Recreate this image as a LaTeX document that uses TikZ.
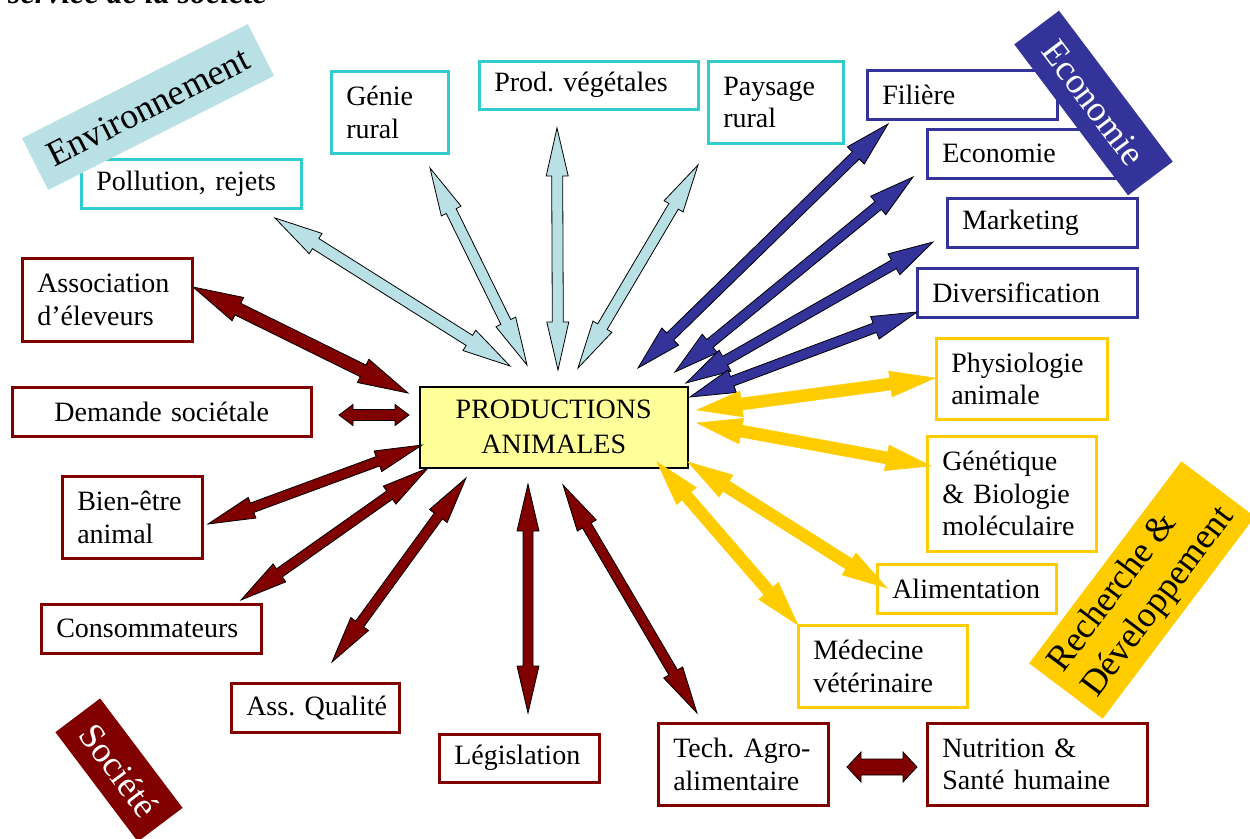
\documentclass[tikz,border=0pt]{standalone}
\usepackage{fontspec}
\setmainfont{Liberation Serif}
\usetikzlibrary{calc}
\definecolor{envc}{RGB}{185,224,228}
\definecolor{cyanb}{RGB}{51,204,204}
\definecolor{ecoc}{RGB}{51,51,153}
\definecolor{rdc}{RGB}{255,204,0}
\definecolor{socc}{RGB}{128,0,0}
\definecolor{prodc}{RGB}{255,255,153}
\frenchspacing
\newcommand\blockarrow[6]{%
  \path (#1); \pgfgetlastxy{\bax}{\bay}%
  \path (#2); \pgfgetlastxy{\bbx}{\bby}%
  \pgfmathsetmacro\bang{atan2((\bby)-(\bay),(\bbx)-(\bax))}%
  \pgfmathsetmacro\blen{veclen((\bbx)-(\bax),(\bby)-(\bay))}%
  \pgfmathsetmacro\bend{\blen-#6}%
  \draw[#3, shift={(#1)}, rotate=\bang] (0pt,0pt) -- (#6pt,#5pt) -- (#6pt,#4pt) -- (\bend pt,#4pt) -- (\bend pt,#5pt) -- (\blen pt,0pt) -- (\bend pt,-#5pt) -- (\bend pt,-#4pt) -- (#6pt,-#4pt) -- (#6pt,-#5pt) -- cycle;
}
\tikzset{
  lbarrow/.style={fill=envc, draw=black, line width=0.8pt, line join=miter},
  blarrow/.style={fill=ecoc, draw=black, line width=0.8pt, line join=miter},
  ylarrow/.style={fill=rdc, draw=rdc, line width=0.5pt, line join=miter},
  rdarrow/.style={fill=socc, draw=black, line width=0.8pt, line join=miter},
  box/.style={draw, line width=2.5pt, fill=white, inner xsep=15pt, inner ysep=0pt,
    align=left, anchor=north west, font=\fontsize{28}{32.5}\selectfont},
  envbox/.style={box, draw=cyanb},
  ecobox/.style={box, draw=ecoc},
  rdbox/.style={box, draw=rdc},
  socbox/.style={box, draw=socc},
  label/.style={inner sep=0pt, font=\fontsize{36}{42}\selectfont},
}
\begin{document}
\begin{tikzpicture}[x=1pt,y=-1pt]
\useasboundingbox (0,0) rectangle (1250,838);
\node[anchor=base west, inner sep=0pt, font=\bfseries\itshape\fontsize{32}{36}\selectfont] (title) at (8,3) {service de la société};
% boxes
\node[envbox, minimum width=117pt, minimum height=82pt, text width=87pt] (genie) at (330,70) {Génie\\rural};
\node[envbox, minimum width=219pt, minimum height=48pt, text width=189pt] (prod) at (478,60) {\mbox{Prod. végétales}};
\node[envbox, minimum width=135pt, minimum height=82pt, text width=105pt] (pays) at (707,60) {Paysage\\rural};
\node[envbox, minimum width=220pt, minimum height=49pt, text width=190pt] (pol) at (80,158) {\mbox{Pollution, rejets}};
\node[ecobox, minimum width=190pt, minimum height=49pt, text width=160pt] (fil) at (866,69) {Filière};
\node[ecobox, minimum width=192pt, minimum height=49pt, text width=162pt] (eco) at (926,128) {Economie};
\node[ecobox, minimum width=190pt, minimum height=49pt, text width=160pt] (mkt) at (946,197) {Marketing};
\node[ecobox, minimum width=220pt, minimum height=49pt, text width=190pt] (div) at (916,267) {Diversification};
\node[rdbox, minimum width=171pt, minimum height=81pt, text width=141pt] (phys) at (935,337) {Physiologie\\animale};
\node[rdbox, minimum width=169pt, minimum height=115pt, text width=139pt] (gen) at (926,435) {Génétique\\\mbox{\& Biologie}\\moléculaire};
\node[rdbox, minimum width=179pt, minimum height=49pt, text width=149pt] (alim) at (876,563) {Alimentation};
\node[rdbox, minimum width=169pt, minimum height=82pt, text width=139pt] (med) at (797,624) {Médecine\\vétérinaire};
\node[socbox, minimum width=220pt, minimum height=82pt, text width=190pt] (nut) at (926,722) {\mbox{Nutrition \&}\\\mbox{Santé humaine}};
\node[socbox, minimum width=170pt, minimum height=82pt, text width=140pt] (tech) at (657,722) {\mbox{Tech. Agro-}\\alimentaire};
\node[socbox, minimum width=160pt, minimum height=48pt, text width=130pt] (leg) at (438,733) {Législation};
\node[socbox, minimum width=168pt, minimum height=49pt, text width=138pt] (assq) at (230,682) {\mbox{Ass. Qualité}};
\node[socbox, minimum width=220pt, minimum height=49pt, text width=190pt] (cons) at (40,603) {Consommateurs};
\node[socbox, minimum width=140pt, minimum height=82pt, text width=110pt] (bien) at (61,475) {Bien-être\\animal};
\node[socbox, align=center, minimum width=299pt, minimum height=49pt, text width=269pt] (dem) at (11,386) {\mbox{Demande sociétale}};
\node[socbox, minimum width=170pt, minimum height=83pt, text width=140pt] (asso) at (21,257) {Association\\d’éleveurs};
\node[box, draw=black, line width=1.5pt, fill=prodc, align=center, font=\fontsize{28}{35}\selectfont,
  minimum width=268pt, minimum height=81pt, text width=238pt] (center) at (419,386) {PRODUCTIONS\\ANIMALES};
% arrow end points
\coordinate (a1s) at (275,218); \coordinate (a1e) at (510,366);
\coordinate (a2s) at (430,168); \coordinate (a2e) at (527,365);
\coordinate (a3s) at (557,128); \coordinate (a3e) at (558,370);
\coordinate (a4s) at (698,165); \coordinate (a4e) at (578,368);
\coordinate (b1s) at (888,124); \coordinate (b1e) at (638,368);
\coordinate (b2s) at (913,177); \coordinate (b2e) at (675,372);
\coordinate (b3s) at (933,242); \coordinate (b3e) at (686,383);
\coordinate (b4s) at (917,312); \coordinate (b4e) at (690,397);
\coordinate (y1s) at (697,410); \coordinate (y1e) at (935,378);
\coordinate (y2s) at (697,423); \coordinate (y2e) at (931,466);
\coordinate (y3s) at (688,462); \coordinate (y3e) at (887,588);
\coordinate (y4s) at (657,462); \coordinate (y4e) at (798,625);
\coordinate (r1s) at (193,287); \coordinate (r1e) at (408,393);
\coordinate (r2s) at (339,415); \coordinate (r2e) at (409,415);
\coordinate (r3s) at (208,524); \coordinate (r3e) at (422,445);
\coordinate (r4s) at (241,600); \coordinate (r4e) at (428,468);
\coordinate (r5s) at (332,662); \coordinate (r5e) at (466,478);
\coordinate (r6s) at (528,713); \coordinate (r6e) at (528,484);
\coordinate (r7s) at (563,485); \coordinate (r7e) at (697,713);
\coordinate (r8s) at (847,767); \coordinate (r8e) at (917,767);
% arrows
\blockarrow{a1s}{a1e}{lbarrow}{6}{12}{48}
\blockarrow{a2s}{a2e}{lbarrow}{5.5}{11}{48}
\blockarrow{a3s}{a3e}{lbarrow}{5.5}{11}{48}
\blockarrow{a4s}{a4e}{lbarrow}{5.5}{11}{48}
\blockarrow{b1s}{b1e}{blarrow}{5}{12}{45}
\blockarrow{b2s}{b2e}{blarrow}{5}{12}{45}
\blockarrow{b3s}{b3e}{blarrow}{5}{12}{45}
\blockarrow{b4s}{b4e}{blarrow}{5}{12}{45}
\blockarrow{y1s}{y1e}{ylarrow}{6}{13}{45}
\blockarrow{y2s}{y2e}{ylarrow}{6}{13}{45}
\blockarrow{y3s}{y3e}{ylarrow}{6}{13}{45}
\blockarrow{y4s}{y4e}{ylarrow}{6}{13}{45}
\blockarrow{r1s}{r1e}{rdarrow}{6.5}{13}{50}
\blockarrow{r2s}{r2e}{rdarrow}{5.5}{10.5}{14}
\blockarrow{r3s}{r3e}{rdarrow}{5}{11}{47}
\blockarrow{r4s}{r4e}{rdarrow}{5}{11}{47}
\blockarrow{r5s}{r5e}{rdarrow}{5}{11}{47}
\blockarrow{r6s}{r6e}{rdarrow}{5}{11}{47}
\blockarrow{r7s}{r7e}{rdarrow}{5}{11}{47}
\blockarrow{r8s}{r8e}{rdarrow}{8}{15}{14}
% domain labels
\node[label, rotate=26.8, fill=envc, minimum width=253pt, minimum height=58pt] (lenv) at (148,107) {Environnement};
\node[label, rotate=-53, fill=ecoc, text=white, minimum width=189pt, minimum height=56pt] (leco) at (1093.5,103) {Economie};
\node[label, rotate=53, fill=rdc, align=left, minimum width=253pt, minimum height=92pt] (lrd) at (1142,590) {Recherche \&\\Développement};
\node[label, rotate=-53, fill=socc, text=white, minimum width=137pt, minimum height=56pt] (lsoc) at (119,770) {Société};
\end{tikzpicture}
\end{document}
